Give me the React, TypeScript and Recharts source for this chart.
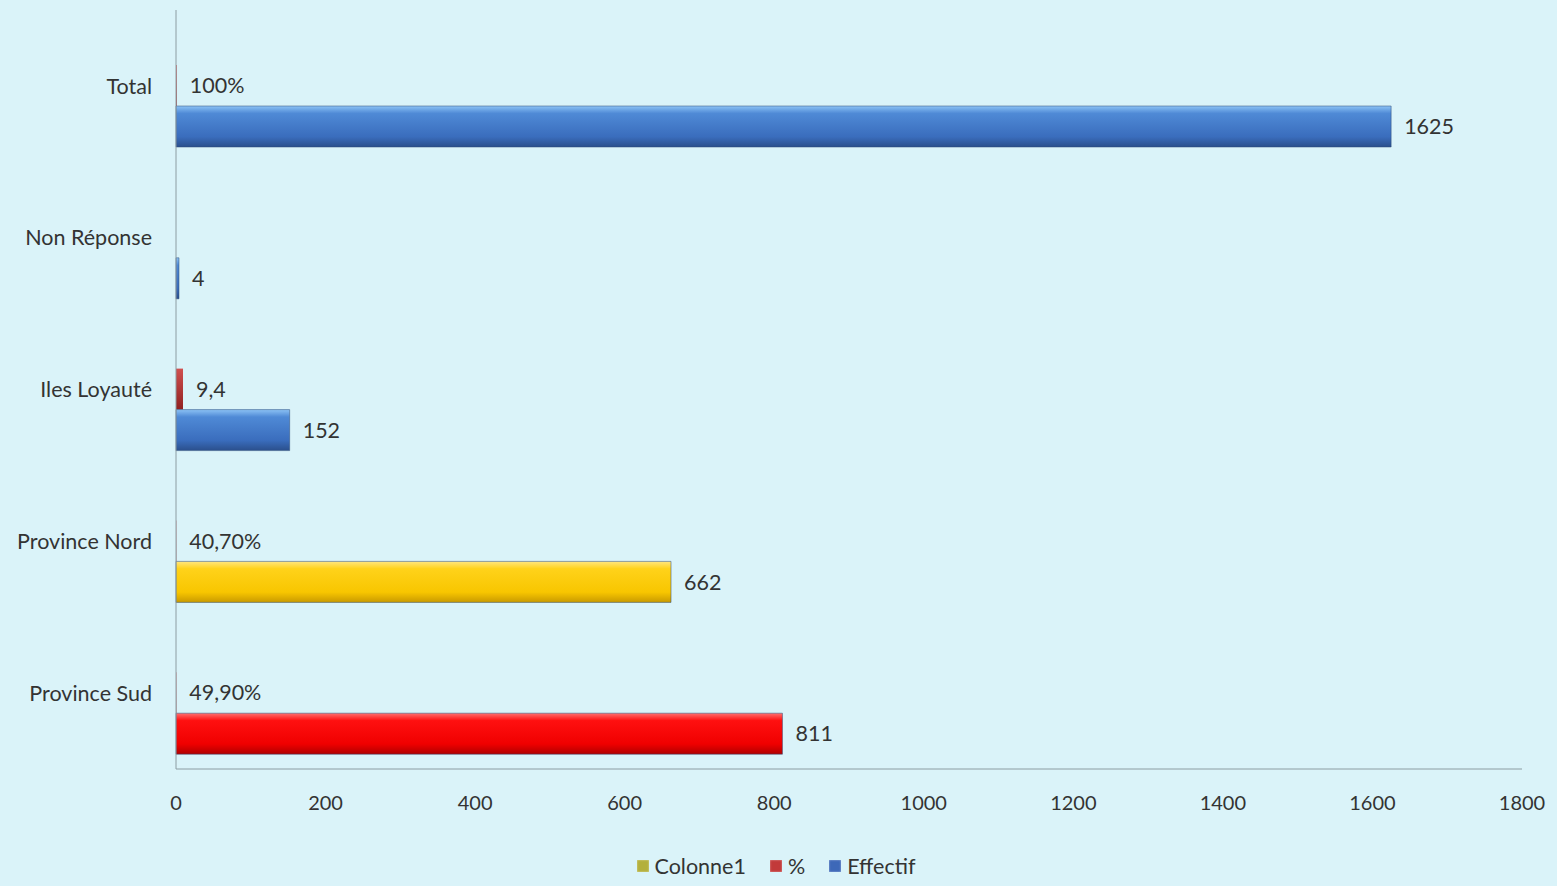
import { BarChart, Bar, XAxis, YAxis, Legend, LabelList, Cell } from "recharts";

const categories = ["Total", "Non Réponse", "Iles Loyauté", "Province Nord", "Province Sud"];
const colonne1: (number | null)[] = [null, null, null, null, null];
const pct: (number | null)[] = [1, null, 9.4, 0.407, 0.499];
const pctLabels = ["100%", "", "9,4", "40,70%", "49,90%"];
const effectif = [1625, 4, 152, 662, 811];
const effectifFills = ["url(#gBlue)", "url(#gBlue)", "url(#gBlue)", "url(#gYellow)", "url(#gRed)"];
const xTicks = [0, 200, 400, 600, 800, 1000, 1200, 1400, 1600, 1800];

const data = categories.map((name, i) => ({
  name,
  colonne1: colonne1[i],
  pct: pct[i],
  pctLabel: pctLabels[i],
  effectif: effectif[i],
}));

const FONT = "Lato, 'Open Sans', sans-serif";

const legendItems = [
  { label: "Colonne1", color: "#b3b03c" },
  { label: "%", color: "#c23a3a" },
  { label: "Effectif", color: "#3d68b8" },
];

function LegendBox() {
  return (
    <div style={{ display: "flex", justifyContent: "center", gap: 24, fontFamily: FONT, fontSize: 21.5, color: "#333", paddingLeft: 30 }}>
      {legendItems.map((it) => (
        <span key={it.label} style={{ display: "flex", alignItems: "center", gap: 6 }}>
          <span style={{ width: 12, height: 12, background: it.color, display: "inline-block", boxShadow: "inset 0 0 2px rgba(255,255,255,0.6)" }} />
          {it.label}
        </span>
      ))}
    </div>
  );
}

export default function App() {
  return (
    <div style={{ position: "absolute", top: 0, left: 0, width: 1557, height: 886, background: "#daf3f9", overflow: "hidden" }}>
      <BarChart
        width={1557}
        height={886}
        data={data}
        layout="vertical"
        margin={{ top: 10, right: 35, left: 0, bottom: 3 }}
        barCategoryGap={14}
        barGap={0}
      >
        <defs>
          <linearGradient id="gBlue" x1="0" y1="0" x2="0" y2="1">
            <stop offset="0%" stopColor="#8cc2f5" />
            <stop offset="18%" stopColor="#4f8ad6" />
            <stop offset="75%" stopColor="#3a6dbd" />
            <stop offset="100%" stopColor="#2a4f8c" />
          </linearGradient>
          <linearGradient id="gYellow" x1="0" y1="0" x2="0" y2="1">
            <stop offset="0%" stopColor="#ffe680" />
            <stop offset="18%" stopColor="#ffd21a" />
            <stop offset="75%" stopColor="#f8c600" />
            <stop offset="100%" stopColor="#c99a00" />
          </linearGradient>
          <linearGradient id="gRed" x1="0" y1="0" x2="0" y2="1">
            <stop offset="0%" stopColor="#ff7070" />
            <stop offset="18%" stopColor="#ff1010" />
            <stop offset="75%" stopColor="#f00000" />
            <stop offset="100%" stopColor="#b00000" />
          </linearGradient>
          <linearGradient id="gDarkRed" x1="0" y1="0" x2="0" y2="1">
            <stop offset="0%" stopColor="#d05050" />
            <stop offset="100%" stopColor="#902020" />
          </linearGradient>
        </defs>
        <XAxis
          type="number"
          domain={[0, 1800]}
          ticks={xTicks}
          height={84}
          tickSize={0}
          tickMargin={27}
          stroke="#8c9ca2"
          tick={{ fill: "#333", fontSize: 20, fontFamily: FONT }}
        />
        <YAxis
          type="category"
          dataKey="name"
          width={176}
          tickSize={0}
          tickMargin={24}
          stroke="#8c9ca2"
          tick={{ fill: "#333", fontSize: 21.5, fontFamily: FONT }}
        />
        <Legend content={<LegendBox />} height={30} />
        <Bar dataKey="colonne1" name="Colonne1" fill="url(#gYellow)" isAnimationActive={false} />
        <Bar dataKey="pct" name="%" fill="url(#gDarkRed)" isAnimationActive={false}>
          <LabelList dataKey="pctLabel" position="right" offset={13} fill="#333" fontSize={21.5} fontFamily={FONT} />
        </Bar>
        <Bar dataKey="effectif" name="Effectif" stroke="#2c4a78" strokeOpacity={0.5} isAnimationActive={false}>
          {effectif.map((_, i) => (
            <Cell key={i} fill={effectifFills[i]} />
          ))}
          <LabelList dataKey="effectif" position="right" offset={13} fill="#333" fontSize={21.5} fontFamily={FONT} />
        </Bar>
      </BarChart>
    </div>
  );
}
